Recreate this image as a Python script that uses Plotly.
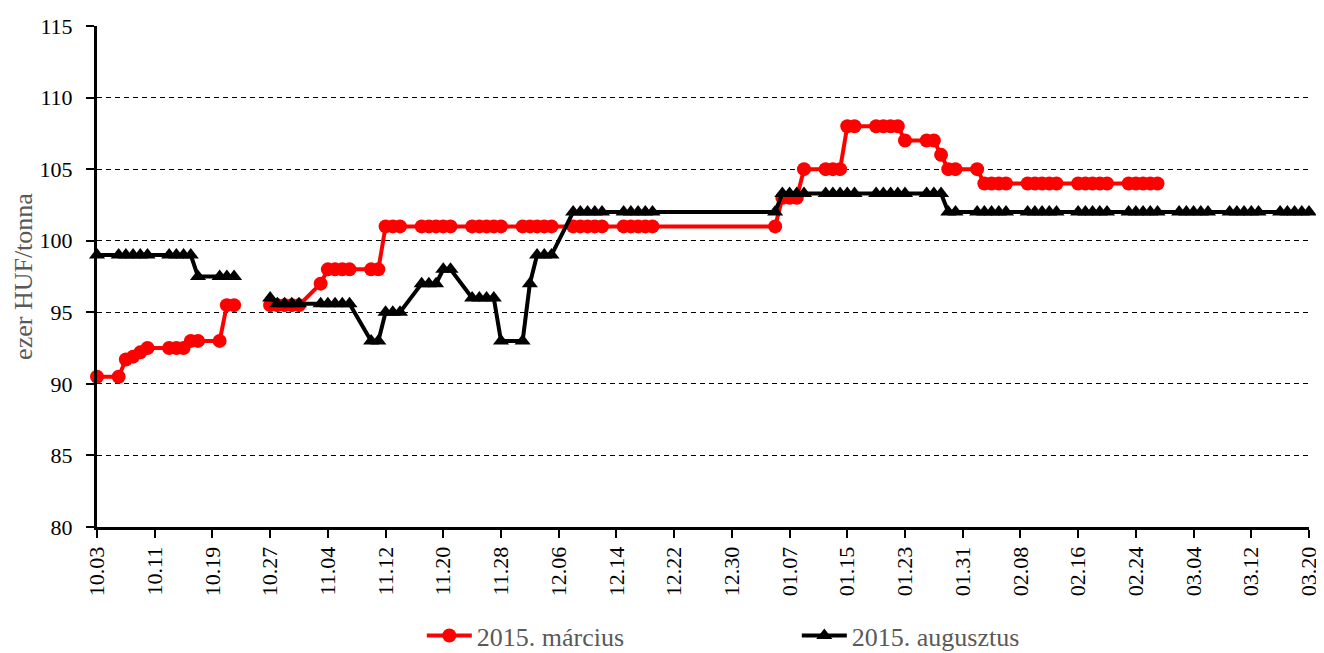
import pandas as pd
import plotly.graph_objects as go

# trading days shown on the chart (no data between 12.19 and 01.05)
days = list(pd.bdate_range("2014-10-03", "2014-12-19")) + list(
    pd.bdate_range("2015-01-05", "2015-03-20")
)

# ezer HUF/tonna, one value per trading day (None = no quote)
marcius = [
    90.5,
    90.5, 91.7, 91.9, 92.2, 92.5,      # 10.06-10.10
    92.5, 92.5, 92.5, 93, 93,          # 10.13-10.17
    93, 95.5, 95.5, None, None,        # 10.20-10.24
    95.5, 95.5, 95.5, 95.5, 95.5,      # 10.27-10.31
    97, 98, 98, 98, 98,                # 11.03-11.07
    98, 98, 101, 101, 101,             # 11.10-11.14
    101, 101, 101, 101, 101,           # 11.17-11.21
    101, 101, 101, 101, 101,           # 11.24-11.28
    101, 101, 101, 101, 101,           # 12.01-12.05
    101, 101, 101, 101, 101,           # 12.08-12.12
    101, 101, 101, 101, 101,           # 12.15-12.19
    101, 103, 103, 103, 105,           # 01.05-01.09
    105, 105, 105, 108, 108,           # 01.12-01.16
    108, 108, 108, 108, 107,           # 01.19-01.23
    107, 107, 106, 105, 105,           # 01.26-01.30
    105, 104, 104, 104, 104,           # 02.02-02.06
    104, 104, 104, 104, 104,           # 02.09-02.13
    104, 104, 104, 104, 104,           # 02.16-02.20
    104, 104, 104, 104, 104,           # 02.23-02.27
    None, None, None, None, None,      # 03.02-03.06
    None, None, None, None, None,      # 03.09-03.13
    None, None, None, None, None,      # 03.16-03.20
]

augusztus = [
    99,
    99, 99, 99, 99, 99,                # 10.06-10.10
    99, 99, 99, 99, 97.5,              # 10.13-10.17
    97.5, 97.5, 97.5, None, None,      # 10.20-10.24
    96, 95.6, 95.6, 95.6, 95.6,        # 10.27-10.31
    95.6, 95.6, 95.6, 95.6, 95.6,      # 11.03-11.07
    93, 93, 95, 95, 95,                # 11.10-11.14
    97, 97, 97, 98, 98,                # 11.17-11.21
    96, 96, 96, 96, 93,                # 11.24-11.28
    93, 97, 99, 99, 99,                # 12.01-12.05
    102, 102, 102, 102, 102,           # 12.08-12.12
    102, 102, 102, 102, 102,           # 12.15-12.19
    102, 103.3, 103.3, 103.3, 103.3,   # 01.05-01.09
    103.3, 103.3, 103.3, 103.3, 103.3, # 01.12-01.16
    103.3, 103.3, 103.3, 103.3, 103.3, # 01.19-01.23
    103.3, 103.3, 103.3, 102, 102,     # 01.26-01.30
    102, 102, 102, 102, 102,           # 02.02-02.06
    102, 102, 102, 102, 102,           # 02.09-02.13
    102, 102, 102, 102, 102,           # 02.16-02.20
    102, 102, 102, 102, 102,           # 02.23-02.27
    102, 102, 102, 102, 102,           # 03.02-03.06
    102, 102, 102, 102, 102,           # 03.09-03.13
    102, 102, 102, 102, 102,           # 03.16-03.20
]

tick_dates = list(pd.date_range("2014-10-03", "2015-03-20", freq="8D"))
tick_labels = [d.strftime("%m.%d") for d in tick_dates]

FONT = "Liberation Serif"

fig = go.Figure()
fig.add_trace(
    go.Scatter(
        x=days,
        y=marcius,
        name="2015. március",
        mode="lines+markers",
        line=dict(color="#ff0000", width=4),
        marker=dict(symbol="circle", size=14, color="#ff0000"),
        cliponaxis=False,
        connectgaps=False,
    )
)
fig.add_trace(
    go.Scatter(
        x=days,
        y=augusztus,
        name="2015. augusztus",
        mode="lines+markers",
        line=dict(color="#000000", width=4),
        marker=dict(symbol="triangle-up", size=14, color="#000000"),
        cliponaxis=False,
        connectgaps=False,
    )
)

# the page body adds an 8px offset, margins are set so the plot lands at ~97..1309 x 26..527
fig.update_layout(
    width=1324,
    height=653,
    margin=dict(l=89, r=23, t=18, b=134),
    paper_bgcolor="white",
    plot_bgcolor="white",
    font=dict(family=FONT, size=22, color="black"),
    showlegend=True,
    legend=dict(
        orientation="h",
        x=0.268,
        xref="paper",
        y=0.039,
        yref="container",
        xanchor="left",
        yanchor="middle",
        entrywidth=315,
        entrywidthmode="pixels",
        itemwidth=45,
        font=dict(family=FONT, size=26, color="#595959"),
        bgcolor="rgba(0,0,0,0)",
    ),
)

fig.update_xaxes(
    type="date",
    range=["2014-10-03", "2015-03-20"],
    tickmode="array",
    tickvals=tick_dates,
    ticktext=tick_labels,
    tickangle=-90,
    ticks="outside",
    ticklen=8,
    tickwidth=2,
    tickcolor="black",
    showline=True,
    linecolor="black",
    linewidth=3,
    showgrid=False,
    zeroline=False,
    automargin=False,
    tickfont=dict(family=FONT, size=22, color="black"),
)

fig.update_yaxes(
    range=[80, 115],
    dtick=5,
    ticks="outside",
    ticklen=8,
    tickwidth=2,
    tickcolor="black",
    ticklabelstandoff=9,
    showline=True,
    linecolor="black",
    linewidth=3,
    showgrid=True,
    gridcolor="black",
    gridwidth=1,
    griddash="5px,4px",
    zeroline=False,
    automargin=False,
    tickfont=dict(family=FONT, size=22, color="black"),
    title=dict(
        text="ezer HUF/tonna",
        font=dict(family=FONT, size=26, color="#595959"),
        standoff=0,
    ),
)

fig.write_html("out.html")
